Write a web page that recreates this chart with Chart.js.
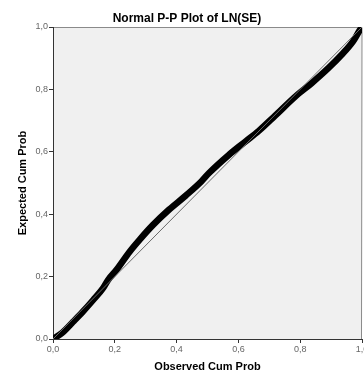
<!DOCTYPE html>
<html><head><meta charset="utf-8">
<script src="https://cdn.jsdelivr.net/npm/chart.js@4/dist/chart.umd.min.js"></script>
<style>html,body{margin:0;padding:0;background:#fff}canvas{display:block}</style>
</head><body>
<canvas id="c" width="364" height="377"></canvas>
<script>
const chartTitle = 'Normal P-P Plot of LN(SE)';
const xAxisLabel = 'Observed Cum Prob';
const yAxisLabel = 'Expected Cum Prob';
const observedCumProb = [0, 0.03, 0.065, 0.097, 0.13, 0.162, 0.178, 0.205, 0.248, 0.28, 0.323, 0.376, 0.43, 0.48, 0.505, 0.569, 0.623, 0.666, 0.719, 0.784, 0.837, 0.891, 0.934, 0.971, 0.993, 1.0];
const expectedCumProb = [0, 0.02, 0.055, 0.088, 0.125, 0.163, 0.189, 0.221, 0.28, 0.318, 0.365, 0.415, 0.46, 0.505, 0.532, 0.59, 0.633, 0.667, 0.716, 0.777, 0.82, 0.868, 0.911, 0.954, 0.99, 1.0];
const referenceX = [0, 1];
const referenceY = [0, 1];
const tickValues = [0, 0.2, 0.4, 0.6, 0.8, 1.0];

const fmt = v => Number(v).toFixed(1).replace('.', ',');
const FONT = "'Liberation Sans', Arial, sans-serif";

const plotBg = {
  id: 'plotBg',
  beforeDraw(chart) {
    const {ctx, chartArea: a} = chart;
    ctx.save();
    ctx.fillStyle = '#f0f0f0';
    ctx.fillRect(a.left, a.top, a.right - a.left, a.bottom - a.top);
    ctx.strokeStyle = '#8a8a8a';
    ctx.lineWidth = 1;
    ctx.beginPath();
    ctx.moveTo(a.left, a.top + 0.5);
    ctx.lineTo(a.right, a.top + 0.5);
    ctx.lineTo(a.right - 0.5, a.bottom);
    ctx.stroke();
    ctx.restore();
  }
};

const axisCommon = (labelText, isX) => ({
  type: 'linear',
  min: 0, max: 1,
  afterBuildTicks(scale) { scale.ticks = tickValues.map(v => ({value: v})); },
  ticks: {
    callback: v => fmt(v),
    color: '#666',
    font: {family: FONT, size: 9},
    padding: 1,
    maxRotation: 0,
    autoSkip: false
  },
  grid: {
    drawOnChartArea: false,
    drawTicks: true,
    tickLength: 4,
    tickColor: '#333',
    tickWidth: 1
  },
  border: {display: true, color: '#333', width: 1},
  title: {
    display: true,
    text: labelText,
    color: '#000',
    font: {family: FONT, size: 11, weight: 'bold'},
    padding: isX ? {top: 0, bottom: 3} : {top: 4, bottom: 0}
  },
  afterFit(scale) {
    scale.paddingLeft = 0; scale.paddingRight = 0;
    scale.paddingTop = 0; scale.paddingBottom = 0;
    if (isX) scale.height = 38; else scale.width = 41;
  }
});

new Chart(document.getElementById('c'), {
  type: 'scatter',
  data: {
    datasets: [
      {
        label: 'Reference',
        data: referenceX.map((x, i) => ({x, y: referenceY[i]})),
        showLine: true,
        borderColor: '#6a6a6a',
        borderWidth: 1,
        pointRadius: 0,
        clip: 0,
        order: 0
      },
      {
        label: 'Observed',
        data: observedCumProb.map((x, i) => ({x, y: expectedCumProb[i]})),
        showLine: true,
        borderColor: '#000',
        borderWidth: 6.5,
        borderCapStyle: 'round',
        borderJoinStyle: 'round',
        cubicInterpolationMode: 'monotone',
        pointRadius: 0,
        clip: 0,
        order: 1
      }
    ]
  },
  options: {
    responsive: false,
    animation: false,
    layout: {padding: {left: 12, right: 2, top: 0, bottom: 0}},
    plugins: {
      legend: {display: false},
      tooltip: {enabled: false},
      title: {
        display: true,
        text: chartTitle,
        color: '#000',
        font: {family: FONT, size: 12, weight: 'bold', lineHeight: 1.2},
        padding: {top: 11, bottom: 1.6}
      }
    },
    scales: {
      x: axisCommon(xAxisLabel, true),
      y: axisCommon(yAxisLabel, false)
    }
  },
  plugins: [plotBg]
});
</script>
</body></html>
